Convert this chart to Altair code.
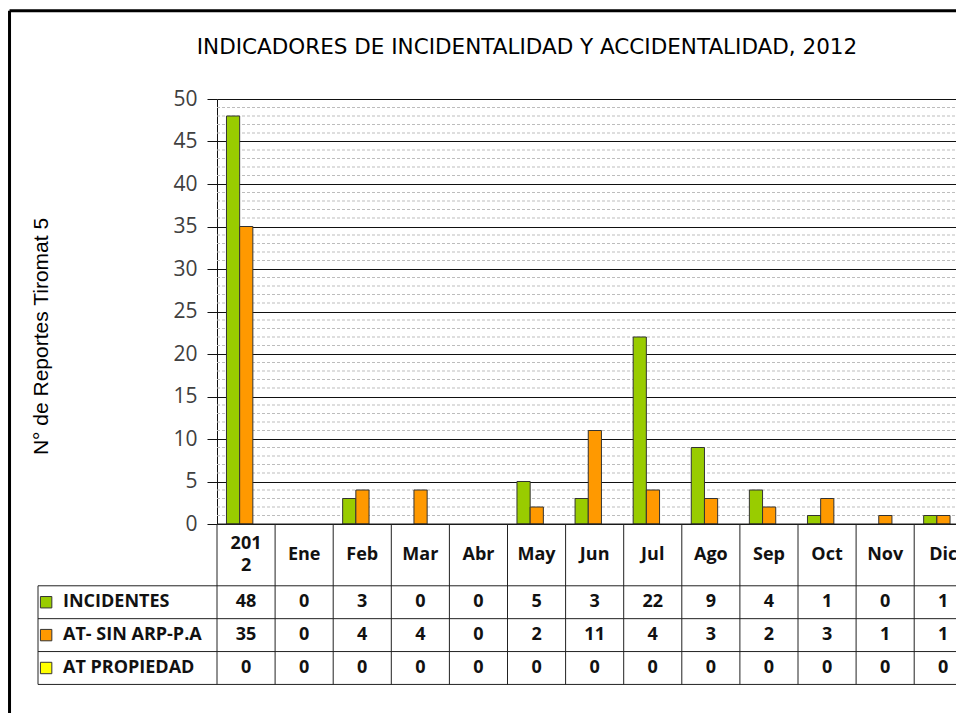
import altair as alt
import pandas as pd

# ---------------- data ----------------
categories = ["2012", "Ene", "Feb", "Mar", "Abr", "May", "Jun", "Jul", "Ago", "Sep", "Oct", "Nov", "Dic"]
header_labels = ["201\n2", "Ene", "Feb", "Mar", "Abr", "May", "Jun", "Jul", "Ago", "Sep", "Oct", "Nov", "Dic"]
incidentes = [48, 0, 3, 0, 0, 5, 3, 22, 9, 4, 1, 0, 1]
at_sin_arp = [35, 0, 4, 4, 0, 2, 11, 4, 3, 2, 3, 1, 1]
at_propiedad = [0, 0, 0, 0, 0, 0, 0, 0, 0, 0, 0, 0, 0]
series_names = ["INCIDENTES", "AT- SIN ARP-P.A", "AT PROPIEDAD"]
series_colors = ["#99CC00", "#FF9900", "#FFFF00"]
y_ticks = [0, 5, 10, 15, 20, 25, 30, 35, 40, 45, 50]
chart_title = "INDICADORES DE INCIDENTALIDAD Y ACCIDENTALIDAD, 2012"
y_title = "N° de Reportes Tiromat 5"

series_values = [incidentes, at_sin_arp, at_propiedad]

# ---------------- layout (px) ----------------
COL_PX = 58.1          # width of one month column
UNIT_PX = 8.53         # pixels per report on the y axis
VIEW_W = 739
VIEW_H = 425
PAD = {"left": 209, "top": 91, "right": 0, "bottom": 189}
XMAX = VIEW_W / COL_PX
HEADER_H = 62 / UNIT_PX
ROW_H = 33 / UNIT_PX
LEGEND_W = 179 / COL_PX
LINE_H = 22
BAR_W = 0.227
BAR_START = 0.163
N = len(categories)

X_SCALE = alt.Scale(domain=[0, XMAX], nice=False, zero=False)
Y_SCALE = alt.Scale(domain=[0, 50], nice=False, zero=False)
Y_AXIS = alt.Axis(values=y_ticks, title=y_title, grid=True, gridColor="#111", gridWidth=1,
                  domain=True, domainColor="#111", ticks=True, tickColor="#111", tickSize=10,
                  labelFont="Open Sans", labelFontSize=21, labelColor="#404040", labelPadding=10,
                  titleFont="Liberation Sans", titleFontSize=21, titleFontWeight="normal",
                  titleColor="#000", titleX=-166, titleY=237, titleAngle=270,
                  titleBaseline="bottom", titleAlign="center")


def X(field):
    return alt.X(field, scale=X_SCALE, axis=None)


def Y(field):
    return alt.Y(field, scale=Y_SCALE, axis=Y_AXIS)


# ---------------- frames ----------------
rows = []
for s, (name, vals) in enumerate(zip(series_names, series_values)):
    for i, (cat, v) in enumerate(zip(categories, vals)):
        rows.append({"serie": name, "s": s, "cat": cat, "idx": i, "value": v,
                     "x1": i + BAR_START + s * BAR_W, "x2": i + BAR_START + (s + 1) * BAR_W,
                     "xc": i + 0.5, "yc": -HEADER_H - (s + 0.5) * ROW_H})
long_df = pd.DataFrame(rows)
bars_df = long_df[long_df["value"] > 0]

minor_df = pd.DataFrame({"v": [v for v in range(1, 50) if v % 5 != 0], "xa": 0.0, "xb": N + 1.0})

lines = []
for b in range(N + 1):
    lines.append({"x": b, "x2": b, "y": 0, "y2": -HEADER_H - 3 * ROW_H})
lines.append({"x": -LEGEND_W, "x2": -LEGEND_W, "y": -HEADER_H, "y2": -HEADER_H - 3 * ROW_H})
for k in range(4):
    yy = -HEADER_H - k * ROW_H
    lines.append({"x": -LEGEND_W, "x2": N + 1, "y": yy, "y2": yy})
lines.append({"x": 0, "x2": N + 1, "y": 0, "y2": 0})
lines_df = pd.DataFrame(lines)

header_df = pd.DataFrame({
    "label": header_labels,
    "xc": [i + 0.5 for i in range(N)],
    "yc": [-HEADER_H / 2 + lab.count("\n") * (LINE_H / 2) / UNIT_PX for lab in header_labels]})

legend_df = pd.DataFrame({"serie": series_names,
                          "xs": [-LEGEND_W + 0.14] * 3,
                          "xt": [-LEGEND_W + 0.43] * 3,
                          "yc": [-HEADER_H - (s + 0.5) * ROW_H for s in range(3)]})

title_df = pd.DataFrame({"t": [chart_title], "x": [(527 - 217) / COL_PX], "y": [50 + (99 - 47.5) / UNIT_PX]})

frame_df = pd.DataFrame({"x": [-3.571, -3.571], "x2": [-3.571, N + 2], "y": [60.37, 60.37], "y2": [-40, 60.37]})

color_scale = alt.Scale(domain=series_names, range=series_colors)
TXT = dict(font="Open Sans", fontSize=18, fontWeight="bold", color="#111", baseline="middle")

# ---------------- layers ----------------
minor = alt.Chart(minor_df).mark_rule(color="#bdbdbd", strokeWidth=1, strokeDash=[3, 2]).encode(
    x=X("xa:Q"), x2="xb:Q", y=Y("v:Q"))

bars = alt.Chart(bars_df).mark_bar(stroke="#333", strokeWidth=1).encode(
    x=X("x1:Q"), x2="x2:Q", y=Y("value:Q"), y2=alt.datum(0),
    color=alt.Color("serie:N", scale=color_scale, legend=None))

table_lines = alt.Chart(lines_df).mark_rule(color="#222", strokeWidth=1).encode(
    x=X("x:Q"), x2="x2:Q", y=Y("y:Q"), y2="y2:Q")

header_text = alt.Chart(header_df).mark_text(lineBreak="\n", lineHeight=LINE_H, **TXT).encode(
    x=X("xc:Q"), y=Y("yc:Q"), text="label:N")

cell_text = alt.Chart(long_df).mark_text(**TXT).encode(
    x=X("xc:Q"), y=Y("yc:Q"), text="value:Q")

legend_sq = alt.Chart(legend_df).mark_square(size=130, filled=True, stroke="#333", strokeWidth=1,
                                             opacity=1).encode(
    x=X("xs:Q"), y=Y("yc:Q"),
    color=alt.Color("serie:N", scale=color_scale, legend=None))

legend_txt = alt.Chart(legend_df).mark_text(align="left", **TXT).encode(
    x=X("xt:Q"), y=Y("yc:Q"), text="serie:N")

title_txt = alt.Chart(title_df).mark_text(font="DejaVu Sans", fontSize=21.5, color="#000",
                                           baseline="middle", align="center").encode(
    x=X("x:Q"), y=Y("y:Q"), text="t:N")

frame = alt.Chart(frame_df).mark_rule(color="#000", strokeWidth=3).encode(
    x=X("x:Q"), x2="x2:Q", y=Y("y:Q"), y2="y2:Q")

chart = alt.layer(minor, bars, table_lines, header_text, cell_text, legend_sq, legend_txt,
                  title_txt, frame).properties(
    width=VIEW_W, height=VIEW_H,
    padding=PAD,
    autosize=alt.AutoSizeParams(type="none"),
    background="white",
).configure_view(stroke=None)

chart.save("out.html", embed_options={"renderer": "svg", "actions": False})
